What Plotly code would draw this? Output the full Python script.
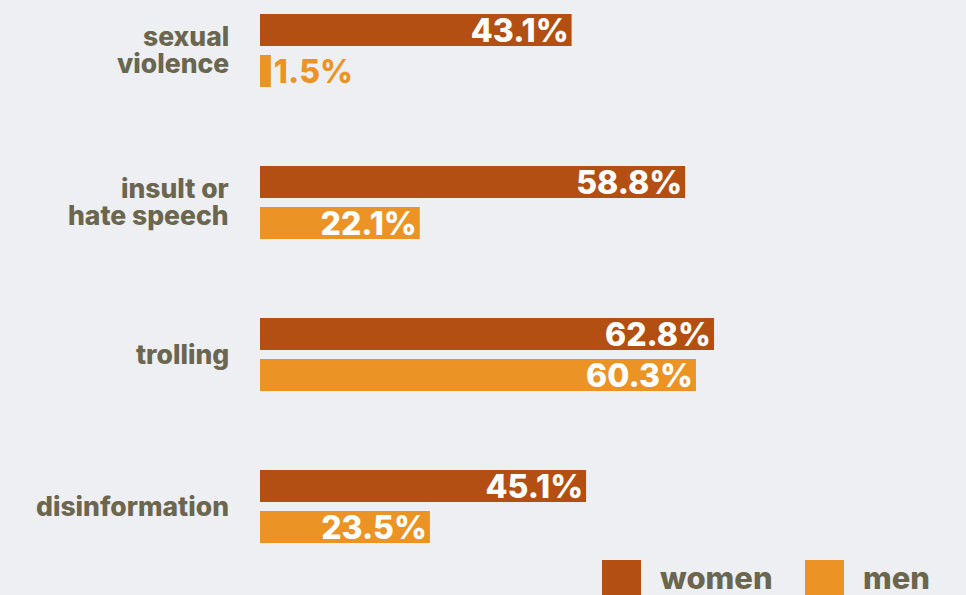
import plotly.graph_objects as go

# Share of respondents reporting each kind of online abuse
categories = ["sexual\nviolence", "insult or\nhate speech", "trolling", "disinformation"]
women = [43.1, 58.8, 62.8, 45.1]
men = [1.5, 22.1, 60.3, 23.5]
series_names = ["women", "men"]

BG = "#eeeff2"
C_WOMEN = "#b34f12"
C_MEN = "#ec9326"
C_TEXT = "#6b664f"
FONT = "Inter"

W, H = 966, 595
ML, MB = 260, 50
PLOT_W, PLOT_H = W - ML, H - MB
X_MAX = PLOT_W / 7.23
Y_TOP = -50.5 / 152
Y_BOT = Y_TOP + PLOT_H / 152

cat_ids = list(range(len(categories)))


def labels(vals):
    return [f"{v:.1f}%" for v in vals]


def positions(vals):
    return ["outside" if v < 5 else "inside" for v in vals]


fig = go.Figure()
for name, vals, col in [(series_names[0], women, C_WOMEN), (series_names[1], men, C_MEN)]:
    fig.add_trace(go.Bar(
        name=name, y=cat_ids, x=vals, orientation="h",
        marker=dict(color=col, line=dict(width=0)),
        text=labels(vals), textposition=positions(vals),
        insidetextanchor="end", textangle=0, constraintext="none", cliponaxis=False,
        insidetextfont=dict(family=FONT, size=32, color="white", weight=800),
        outsidetextfont=dict(family=FONT, size=32, color=col, weight=800),
        hoverinfo="skip", showlegend=False,
    ))

# category labels, one annotation per line for tight line spacing
ann = []
LINE = 27
for i, lab in enumerate(categories):
    lines = lab.split("\n")
    n = len(lines)
    for j, ln in enumerate(lines):
        ann.append(dict(
            x=0, xref="paper", y=i, yref="y", xanchor="right", yanchor="middle",
            xshift=-30, yshift=((n - 1) / 2 - j) * LINE + 1,
            text=ln, showarrow=False, borderpad=0,
            font=dict(family=FONT, size=26.5, color=C_TEXT, weight=800),
        ))


def px_x(p):
    return (p - ML) / PLOT_W


def px_y(p):
    return (PLOT_H - p) / PLOT_H


# legend drawn as large swatches with labels
shapes = []
legend = [(series_names[0], C_WOMEN, 602), (series_names[1], C_MEN, 805)]
for name, col, x0 in legend:
    shapes.append(dict(type="rect", xref="paper", yref="paper",
                       x0=px_x(x0), x1=px_x(x0 + 39), y0=px_y(600), y1=px_y(560),
                       fillcolor=col, line=dict(width=0), layer="above"))
    ann.append(dict(x=px_x(x0 + 57), xref="paper", y=px_y(577), yref="paper",
                    xanchor="left", yanchor="middle", text=name, showarrow=False,
                    borderpad=0,
                    font=dict(family=FONT, size=31, color=C_TEXT, weight=800)))

fig.update_layout(
    width=W, height=H,
    margin=dict(l=ML, r=0, t=0, b=MB, pad=0),
    paper_bgcolor=BG, plot_bgcolor=BG,
    barmode="group", bargap=0.4605, bargroupgap=0.22,
    xaxis=dict(range=[0, X_MAX], visible=False, fixedrange=True),
    yaxis=dict(range=[Y_BOT, Y_TOP], visible=False, fixedrange=True),
    annotations=ann, shapes=shapes,
)

fig.write_html("out.html", config={"displayModeBar": False})
